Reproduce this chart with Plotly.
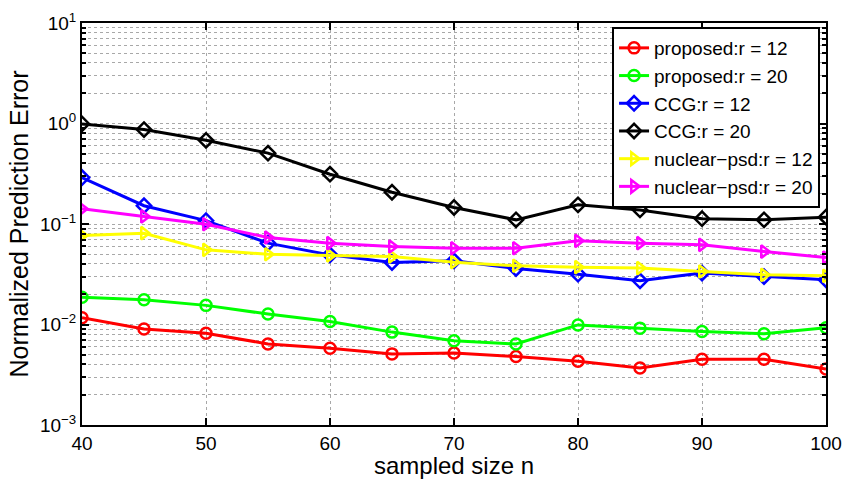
import plotly.graph_objects as go

n_vals = [40, 45, 50, 55, 60, 65, 70, 75, 80, 85, 90, 95, 100]
proposed_r12 = [0.0117, 0.0090, 0.0082, 0.0064, 0.0058, 0.0051, 0.0052, 0.0048, 0.0043, 0.0037, 0.0045, 0.0045, 0.0036]
proposed_r20 = [0.0187, 0.0176, 0.0155, 0.0127, 0.0107, 0.0084, 0.0069, 0.0064, 0.0099, 0.0092, 0.0085, 0.0081, 0.0093]
ccg_r12 = [0.290, 0.152, 0.108, 0.0645, 0.0493, 0.0414, 0.0430, 0.0360, 0.0317, 0.0272, 0.0325, 0.0300, 0.0279]
ccg_r20 = [0.99, 0.87, 0.68, 0.507, 0.313, 0.207, 0.146, 0.110, 0.155, 0.138, 0.113, 0.110, 0.117]
nuc_r12 = [0.0769, 0.081, 0.0553, 0.0500, 0.0486, 0.0475, 0.0417, 0.0384, 0.0372, 0.0364, 0.0337, 0.0312, 0.0305]
nuc_r20 = [0.1416, 0.119, 0.0995, 0.0734, 0.0645, 0.0597, 0.0574, 0.0574, 0.068, 0.0645, 0.062, 0.0532, 0.0464]

series = [
    ("proposed:r = 12", proposed_r12, "#ff0000", "circle-open"),
    ("proposed:r = 20", proposed_r20, "#00ff00", "circle-open"),
    ("CCG:r = 12", ccg_r12, "#0000ff", "diamond-open"),
    ("CCG:r = 20", ccg_r20, "#000000", "diamond-open"),
    ("nuclear\u2212psd:r = 12", nuc_r12, "#ffff00", "triangle-right-open"),
    ("nuclear\u2212psd:r = 20", nuc_r20, "#ff00ff", "triangle-right-open"),
]

y_major = [1e-3, 1e-2, 1e-1, 1, 10]
y_major_text = ["10<sup>\u22123</sup>", "10<sup>\u22122</sup>", "10<sup>\u22121</sup>", "10<sup>0</sup>", "10<sup>1</sup>"]
y_minor = [m * 10.0 ** e for e in range(-3, 1) for m in range(2, 10)]
x_ticks = [40, 50, 60, 70, 80, 90, 100]

fig = go.Figure()
for name, vals, color, sym in series:
    fig.add_trace(go.Scatter(
        x=n_vals, y=vals, name=name, mode="lines+markers",
        line=dict(color=color, width=3),
        marker=dict(symbol=sym, size=11, color=color, line=dict(width=2.5, color=color)),
    ))

font_family = "Liberation Sans, Arial, sans-serif"
grid_color = "#a8a8a8"
fig.update_layout(
    width=846, height=479,
    margin=dict(l=82, r=20, t=23, b=54, autoexpand=False),
    paper_bgcolor="white", plot_bgcolor="white",
    font=dict(family=font_family, size=19, color="black"),
    showlegend=True,
    legend=dict(
        x=0.992, y=0.99, xanchor="right", yanchor="top",
        bgcolor="white", bordercolor="black", borderwidth=2,
        font=dict(size=19), tracegroupgap=0, itemwidth=30,
    ),
    xaxis=dict(
        range=[40, 100], tickvals=x_ticks, ticks="inside", ticklen=7,
        tickwidth=1.5, tickcolor="black", automargin=False,
        showline=True, linecolor="black", linewidth=2, mirror="ticks",
        showgrid=True, gridcolor=grid_color, griddash="dot", gridwidth=1,
        zeroline=False,
        title=dict(text="sampled size n", font=dict(size=24), standoff=0),
        tickfont=dict(size=19),
    ),
    yaxis=dict(
        type="log", range=[-3, 1], automargin=False,
        tickvals=y_major, ticktext=y_major_text,
        ticks="inside", ticklen=7, tickwidth=1.5, tickcolor="black",
        showline=True, linecolor="black", linewidth=2, mirror="ticks",
        showgrid=True, gridcolor=grid_color, griddash="dot", gridwidth=1,
        minor=dict(tickmode="array", tickvals=y_minor, ticks="inside", ticklen=4,
                   tickcolor="black", showgrid=True, gridcolor=grid_color,
                   griddash="dot", gridwidth=1),
        zeroline=False,
        title=dict(text="Normalized Prediction Error", font=dict(size=25), standoff=4),
        tickfont=dict(size=19),
    ),
)

fig.write_html("out.html")
